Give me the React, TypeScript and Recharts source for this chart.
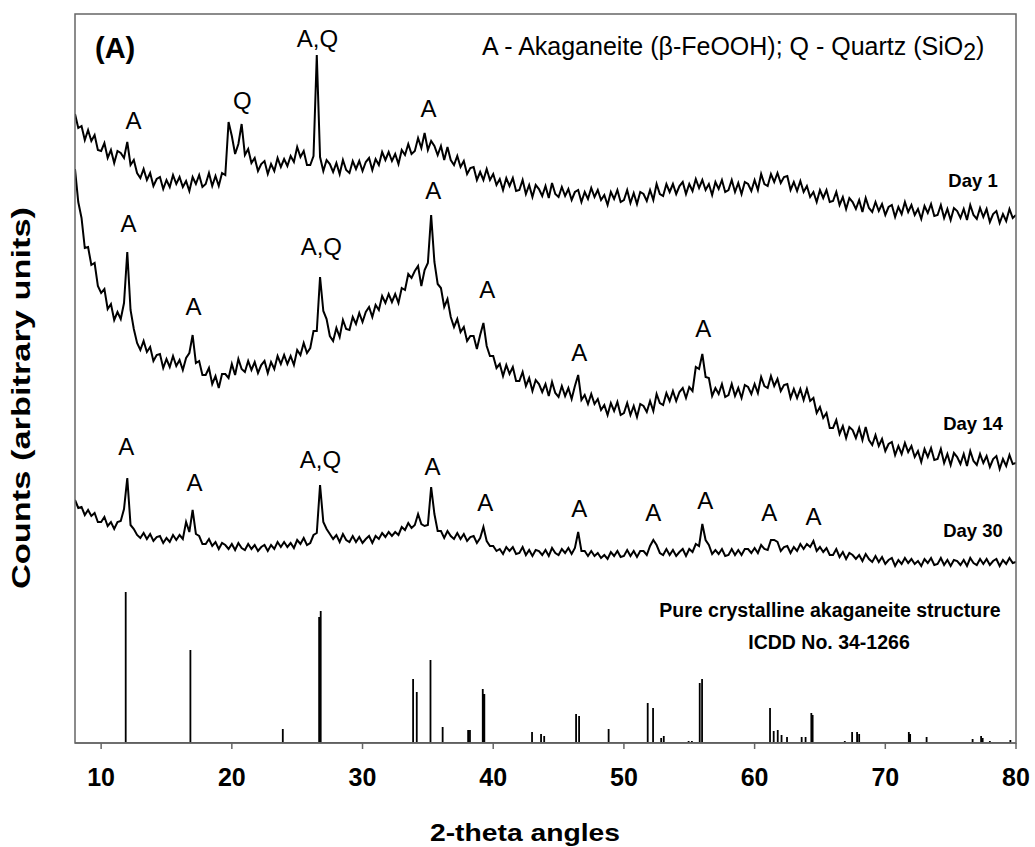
import { LineChart, Line, XAxis, YAxis, ReferenceDot } from "recharts";

const FONT = "'Liberation Sans', Arial, Helvetica, sans-serif";
const FRAME = "#666";

// 2-theta scan, 0.25 deg step
const ANGLES = [
  8, 8.25, 8.5, 8.75, 9, 9.25, 9.5, 9.75,
  10, 10.25, 10.5, 10.75, 11, 11.25, 11.5, 11.75,
  12, 12.25, 12.5, 12.75, 13, 13.25, 13.5, 13.75,
  14, 14.25, 14.5, 14.75, 15, 15.25, 15.5, 15.75,
  16, 16.25, 16.5, 16.75, 17, 17.25, 17.5, 17.75,
  18, 18.25, 18.5, 18.75, 19, 19.25, 19.5, 19.75,
  20, 20.25, 20.5, 20.75, 21, 21.25, 21.5, 21.75,
  22, 22.25, 22.5, 22.75, 23, 23.25, 23.5, 23.75,
  24, 24.25, 24.5, 24.75, 25, 25.25, 25.5, 25.75,
  26, 26.25, 26.5, 26.75, 27, 27.25, 27.5, 27.75,
  28, 28.25, 28.5, 28.75, 29, 29.25, 29.5, 29.75,
  30, 30.25, 30.5, 30.75, 31, 31.25, 31.5, 31.75,
  32, 32.25, 32.5, 32.75, 33, 33.25, 33.5, 33.75,
  34, 34.25, 34.5, 34.75, 35, 35.25, 35.5, 35.75,
  36, 36.25, 36.5, 36.75, 37, 37.25, 37.5, 37.75,
  38, 38.25, 38.5, 38.75, 39, 39.25, 39.5, 39.75,
  40, 40.25, 40.5, 40.75, 41, 41.25, 41.5, 41.75,
  42, 42.25, 42.5, 42.75, 43, 43.25, 43.5, 43.75,
  44, 44.25, 44.5, 44.75, 45, 45.25, 45.5, 45.75,
  46, 46.25, 46.5, 46.75, 47, 47.25, 47.5, 47.75,
  48, 48.25, 48.5, 48.75, 49, 49.25, 49.5, 49.75,
  50, 50.25, 50.5, 50.75, 51, 51.25, 51.5, 51.75,
  52, 52.25, 52.5, 52.75, 53, 53.25, 53.5, 53.75,
  54, 54.25, 54.5, 54.75, 55, 55.25, 55.5, 55.75,
  56, 56.25, 56.5, 56.75, 57, 57.25, 57.5, 57.75,
  58, 58.25, 58.5, 58.75, 59, 59.25, 59.5, 59.75,
  60, 60.25, 60.5, 60.75, 61, 61.25, 61.5, 61.75,
  62, 62.25, 62.5, 62.75, 63, 63.25, 63.5, 63.75,
  64, 64.25, 64.5, 64.75, 65, 65.25, 65.5, 65.75,
  66, 66.25, 66.5, 66.75, 67, 67.25, 67.5, 67.75,
  68, 68.25, 68.5, 68.75, 69, 69.25, 69.5, 69.75,
  70, 70.25, 70.5, 70.75, 71, 71.25, 71.5, 71.75,
  72, 72.25, 72.5, 72.75, 73, 73.25, 73.5, 73.75,
  74, 74.25, 74.5, 74.75, 75, 75.25, 75.5, 75.75,
  76, 76.25, 76.5, 76.75, 77, 77.25, 77.5, 77.75,
  78, 78.25, 78.5, 78.75, 79, 79.25, 79.5, 79.75,
  80,
];

// counts (arbitrary units, traces offset)
const DAY1 = [
  629, 615, 617, 603, 613, 602, 608, 593,
  592, 600, 585, 593, 580, 592, 590, 585,
  601, 578, 583, 570, 565, 574, 563, 570,
  557, 564, 566, 554, 563, 556, 568, 559,
  566, 556, 562, 552, 566, 559, 568, 556,
  559, 570, 557, 567, 557, 570, 568, 621,
  607, 589, 599, 619, 588, 594, 580, 585,
  572, 579, 582, 569, 579, 572, 585, 576,
  584, 577, 587, 581, 596, 586, 592, 578,
  578, 587, 688, 586, 572, 583, 579, 571,
  580, 569, 583, 573, 570, 582, 574, 582,
  572, 581, 585, 573, 584, 578, 591, 583,
  591, 582, 589, 579, 593, 588, 599, 589,
  592, 605, 595, 610, 593, 602, 597, 588,
  597, 583, 596, 583, 578, 587, 576, 582,
  569, 575, 576, 563, 571, 563, 574, 563,
  569, 558, 564, 553, 565, 557, 565, 552,
  553, 563, 549, 558, 546, 558, 554, 547,
  557, 545, 560, 549, 546, 556, 547, 554,
  543, 551, 553, 541, 551, 544, 555, 546,
  553, 543, 548, 538, 551, 544, 553, 541,
  543, 553, 540, 550, 539, 551, 549, 542,
  553, 543, 559, 549, 547, 559, 551, 559,
  549, 557, 561, 549, 559, 552, 564, 555,
  563, 553, 559, 548, 561, 554, 563, 551,
  553, 563, 551, 560, 549, 561, 559, 552,
  563, 553, 569, 559, 557, 569, 561, 570,
  560, 566, 567, 553, 561, 552, 562, 551,
  557, 546, 551, 541, 553, 545, 553, 541,
  542, 551, 538, 546, 534, 545, 541, 534,
  543, 531, 545, 535, 531, 541, 532, 539,
  528, 536, 538, 526, 536, 529, 541, 531,
  538, 528, 534, 524, 537, 530, 539, 527,
  528, 538, 525, 534, 523, 535, 532, 525,
  534, 523, 538, 528, 524, 535, 526, 534,
  521, 529, 532, 520, 529, 522, 534, 525,
  528,
];

const DAY14 = [
  574, 541, 525, 495, 496, 478, 480, 457,
  450, 454, 434, 439, 423, 431, 424, 440,
  491, 433, 414, 400, 393, 402, 391, 396,
  382, 388, 389, 375, 384, 376, 387, 377,
  383, 373, 385, 390, 408, 380, 382, 368,
  368, 375, 359, 367, 355, 369, 369, 365,
  379, 368, 384, 374, 371, 382, 373, 381,
  370, 378, 382, 370, 381, 374, 387, 379,
  388, 379, 387, 378, 393, 388, 400, 390,
  395, 412, 412, 466, 432, 424, 407, 402,
  415, 406, 423, 414, 413, 426, 419, 430,
  421, 431, 436, 426, 438, 433, 447, 440,
  449, 441, 449, 440, 455, 453, 469, 465,
  472, 477, 457, 473, 480, 528, 481, 459,
  455, 436, 444, 426, 416, 424, 411, 416,
  402, 407, 407, 394, 408, 420, 397, 387,
  387, 375, 379, 367, 378, 369, 376, 362,
  362, 371, 357, 365, 352, 363, 359, 351,
  359, 347, 361, 350, 346, 357, 347, 355,
  344, 357, 368, 343, 348, 339, 349, 339,
  344, 333, 338, 328, 340, 332, 341, 328,
  330, 340, 328, 337, 326, 339, 337, 331,
  342, 332, 349, 340, 338, 350, 342, 352,
  342, 351, 355, 345, 356, 352, 376, 374,
  389, 366, 365, 347, 355, 349, 359, 346,
  348, 359, 347, 355, 345, 358, 356, 349,
  359, 350, 366, 357, 355, 367, 357, 364,
  352, 358, 359, 345, 354, 345, 354, 343,
  354, 342, 345, 330, 336, 325, 330, 315,
  315, 323, 309, 317, 305, 316, 313, 305,
  315, 303, 316, 303, 298, 308, 297, 304,
  292, 299, 301, 288, 297, 289, 300, 291,
  297, 286, 292, 281, 294, 286, 295, 283,
  284, 294, 280, 289, 278, 290, 286, 279,
  289, 277, 292, 282, 278, 289, 280, 287,
  276, 284, 287, 274, 284, 277, 288, 279,
  280,
];

const DAY30 = [
  243, 235, 236, 228, 233, 227, 230, 221,
  221, 226, 217, 221, 214, 221, 222, 234,
  265, 218, 214, 208, 205, 210, 204, 209,
  202, 206, 207, 200, 205, 201, 208, 203,
  208, 204, 221, 211, 233, 209, 207, 199,
  199, 204, 197, 201, 194, 200, 198, 194,
  199, 193, 200, 195, 193, 199, 194, 198,
  192, 196, 198, 192, 198, 194, 201, 196,
  201, 196, 200, 195, 203, 199, 205, 198,
  200, 208, 210, 258, 221, 214, 209, 204,
  208, 201, 209, 203, 201, 207, 201, 206,
  200, 204, 207, 200, 207, 204, 210, 206,
  211, 207, 211, 208, 216, 213, 220, 215,
  218, 229, 219, 217, 218, 256, 229, 212,
  212, 205, 212, 207, 204, 210, 204, 209,
  202, 206, 207, 200, 205, 216, 202, 197,
  197, 192, 194, 189, 196, 192, 196, 189,
  190, 196, 188, 193, 187, 193, 192, 188,
  193, 187, 195, 190, 188, 194, 190, 195,
  189, 195, 211, 192, 192, 187, 192, 187,
  190, 185, 188, 184, 191, 187, 192, 186,
  187, 193, 187, 192, 186, 192, 192, 188,
  197, 203, 198, 190, 188, 194, 188, 193,
  187, 191, 194, 187, 194, 191, 199, 197,
  219, 203, 198, 189, 193, 189, 194, 187,
  188, 194, 188, 193, 188, 194, 194, 190,
  195, 190, 198, 194, 193, 203, 203, 201,
  192, 196, 197, 190, 196, 192, 199, 194,
  199, 196, 202, 192, 196, 191, 195, 188,
  188, 194, 186, 191, 184, 190, 188, 184,
  188, 182, 189, 184, 181, 187, 181, 186,
  179, 183, 185, 177, 183, 179, 185, 180,
  184, 179, 182, 177, 184, 180, 185, 178,
  179, 185, 178, 183, 177, 183, 182, 178,
  183, 177, 185, 180, 178, 184, 179, 184,
  178, 182, 184, 177, 183, 179, 185, 180,
  181,
];

// ICDD 34-1266 reference lines
const STICK_POS = [
  11.88, 16.83, 23.9, 26.68, 26.8, 33.87, 34.15, 35.2, 36.13, 38.08, 38.22,
  39.2, 39.32, 42.97, 43.66, 43.9, 46.34, 46.57, 48.83, 51.82, 52.23, 52.85,
  53.05, 54.95, 55.2, 55.8, 55.98, 61.18, 61.46, 61.77, 62.06, 62.48, 63.6,
  63.9, 64.34, 64.44, 66.9, 67.46, 67.84, 68.0, 71.8, 71.9, 73.16, 76.68,
  77.33, 77.45, 78.0, 79.57,
];
const STICK_H = [
  151, 93, 14, 126, 132, 64, 51, 83, 16, 13, 13,
  54, 49, 11, 9, 7, 29, 27, 14, 40, 35, 5,
  7, 2, 2, 60, 64, 35, 12, 13, 8, 6, 6,
  6, 30, 28, 2, 11, 11, 9, 11, 9, 6, 4,
  7, 5, 2, 3,
];

const TICKS = [10, 20, 30, 40, 50, 60, 70, 80];

const PEAK_LABELS = [
  { x: 12.47, y: 623, text: "A" },
  { x: 20.81, y: 643, text: "Q" },
  { x: 26.55, y: 705, text: "A,Q" },
  { x: 35.04, y: 635, text: "A" },
  { x: 12.09, y: 520, text: "A" },
  { x: 17.06, y: 437, text: "A" },
  { x: 26.85, y: 497, text: "A,Q" },
  { x: 35.42, y: 553, text: "A" },
  { x: 39.55, y: 454, text: "A" },
  { x: 46.59, y: 391, text: "A" },
  { x: 56.08, y: 415, text: "A" },
  { x: 11.93, y: 297, text: "A" },
  { x: 17.14, y: 261, text: "A" },
  { x: 26.78, y: 284, text: "A,Q" },
  { x: 35.35, y: 277, text: "A" },
  { x: 39.4, y: 241, text: "A" },
  { x: 46.59, y: 235, text: "A" },
  { x: 52.25, y: 231, text: "A" },
  { x: 56.23, y: 243, text: "A" },
  { x: 61.13, y: 231, text: "A" },
  { x: 64.5, y: 227, text: "A" },
];

const toSeries = (vals: number[]) => ANGLES.map((x, i) => ({ x, y: vals[i] }));

const sticks = STICK_POS.flatMap((x, i) => [
  { x, y: 0 },
  { x, y: STICK_H[i] },
  { x, y: 0 },
]);

function AngleTick(props: any) {
  const { x, y, payload } = props;
  return (
    <text x={x} y={y + 35} textAnchor="middle" fontSize={25} fontWeight="bold" fontFamily={FONT} fill="#000">
      {payload.value}
    </text>
  );
}

export default function App() {
  return (
    <div style={{ position: "absolute", left: 0, top: 0, width: 1035, height: 847, background: "#fff" }}>
      <LineChart width={1035} height={847} margin={{ top: 14, right: 19, bottom: 44, left: 75 }}>
        <XAxis
          dataKey="x"
          type="number"
          domain={[8, 80]}
          ticks={TICKS}
          allowDataOverflow
          height={60}
          tickSize={6}
          tick={<AngleTick />}
          axisLine={{ stroke: FRAME, strokeWidth: 1.5 }}
          tickLine={{ stroke: FRAME, strokeWidth: 1.5 }}
        />
        <YAxis
          type="number"
          domain={[0, 729]}
          allowDataOverflow
          width={0}
          tick={false}
          tickLine={false}
          axisLine={{ stroke: FRAME, strokeWidth: 1.5 }}
        />
        <Line data={toSeries(DAY1)} dataKey="y" type="linear" stroke="#000" strokeWidth={2} dot={false} isAnimationActive={false} />
        <Line data={toSeries(DAY14)} dataKey="y" type="linear" stroke="#000" strokeWidth={2} dot={false} isAnimationActive={false} />
        <Line data={toSeries(DAY30)} dataKey="y" type="linear" stroke="#000" strokeWidth={2} dot={false} isAnimationActive={false} />
        <Line data={sticks} dataKey="y" type="linear" stroke="#000" strokeWidth={1.8} dot={false} isAnimationActive={false} />
        {PEAK_LABELS.map((p, i) => (
          <ReferenceDot
            key={i}
            x={p.x}
            y={p.y}
            r={0}
            fill="none"
            stroke="none"
            label={{ value: p.text, position: "center", fontSize: 24, fill: "#000", fontFamily: FONT }}
          />
        ))}
      </LineChart>
      <svg width={1035} height={847} style={{ position: "absolute", left: 0, top: 0, pointerEvents: "none" }} fontFamily={FONT}>
        <rect x={75} y={14} width={941} height={729} fill="none" stroke={FRAME} strokeWidth={1.5} />
        <text x={95} y={58} fontSize={29} fontWeight="bold">(A)</text>
        <text x={482} y={55} fontSize={25}>
          A - Akaganeite (β-FeOOH); Q - Quartz (SiO<tspan fontSize={23} dy={5}>2</tspan><tspan dy={-5}>)</tspan>
        </text>
        <text x={973} y={187} fontSize={18.5} fontWeight="bold" textAnchor="middle">Day 1</text>
        <text x={973} y={430} fontSize={18.5} fontWeight="bold" textAnchor="middle">Day 14</text>
        <text x={973} y={537} fontSize={18.5} fontWeight="bold" textAnchor="middle">Day 30</text>
        <text x={830} y={617} fontSize={19.5} fontWeight="bold" textAnchor="middle">Pure crystalline akaganeite structure</text>
        <text x={829} y={649} fontSize={19.5} fontWeight="bold" textAnchor="middle">ICDD No. 34-1266</text>
        <text x={525} y={841} fontSize={24} fontWeight="bold" textAnchor="middle" textLength={190} lengthAdjust="spacingAndGlyphs">2-theta angles</text>
        <text
          x={0}
          y={0}
          fontSize={25}
          fontWeight="bold"
          textAnchor="middle"
          textLength={382}
          lengthAdjust="spacingAndGlyphs"
          transform="translate(30 398) rotate(-90)"
        >
          Counts (arbitrary units)
        </text>
      </svg>
    </div>
  );
}
